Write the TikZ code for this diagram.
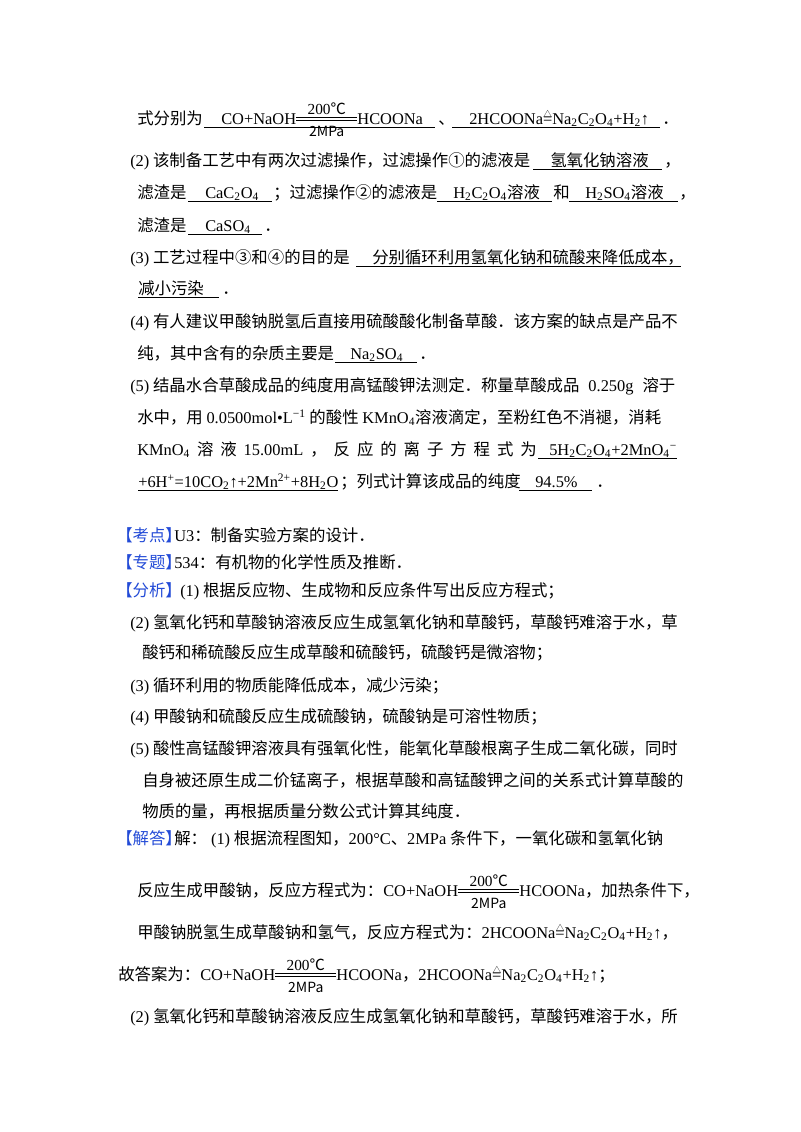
\documentclass[tikz,border=0pt]{standalone}
\usepackage{fontspec}
\setmainfont{Noto Sans CJK SC}
\newfontfamily\tm{Liberation Serif}
\newcommand{\sbs}[1]{\textsubscript{#1}}
\newcommand{\sps}[1]{\textsuperscript{#1}}
\newcommand{\cnd}[2]{$\mathop{\raisebox{0.42ex}{\vbox{\hrule width 46pt height 0.5pt\kern1.3pt\hrule width 46pt height 0.5pt}}}\limits^{\hbox{\fontsize{11.5}{11.5}\selectfont #1}}_{\hbox{\fontsize{10.5}{10.5}\selectfont #2}}$}
\newcommand{\dlt}{\ooalign{\hfil\raisebox{0.75ex}{\fontsize{6.5}{6.5}\selectfont △}\hfil\cr{\tm =}\cr}}
\newcommand{\g}{\hspace{5.2pt}}
\definecolor{blu}{RGB}{35,75,215}
\tikzset{t/.style={anchor=base west,inner sep=0pt,font=\fontsize{12.3}{14}\selectfont},
 ul/.style={line width=0.6pt}}
\begin{document}
\begin{tikzpicture}[x=0.75pt,y=-0.75pt]
\useasboundingbox (0,0) rectangle (800,1132);
\fill[white] (0,0) rectangle (800,1132);
% L1
\node[t] (a1) at (137,124) {式分别为};
\node[t] (a2) at (221,124) {{\tm CO+NaOH}\cnd{{\tm 200}℃}{2MPa}{\tm HCOONa}};
\node[t] (a3) at (438,124) {、};
\node[t] (a4) at (469,124) {{\tm 2HCOONa}\dlt{\tm Na\sbs{2}C\sbs{2}O\sbs{4}+H\sbs{2}↑}};
\node[t] (a5) at (662,124) {．};
\draw[ul] (204,127) -- (435,127); \draw[ul] (452,127) -- (660,127);
% L2
\node[t] (b1) at (130,166) {{\tm (2)} 该制备工艺中有两次过滤操作，过滤操作①的滤液是};
\node[t] (b2) at (550,166) {氢氧化钠溶液}; \node[t] (b3) at (664,166) {，};
\draw[ul] (533,169) -- (662,169);
% L3
\node[t] (c1) at (137,198) {滤渣是};
\node[t] (c2) at (205,198) {\tm CaC\sbs{2}O\sbs{4}};
\node[t] (c3) at (273,198) {；过滤操作②的滤液是};
\node[t] (c4) at (453,198) {{\tm H\sbs{2}C\sbs{2}O\sbs{4}}溶液};
\node[t] (c5) at (553,198) {和};
\node[t] (c6) at (585,198) {{\tm H\sbs{2}SO\sbs{4}}溶液};
\node[t] (c7) at (679,198) {，};
\draw[ul] (188,201) -- (272,201); \draw[ul] (437,201) -- (552,201); \draw[ul] (569,201) -- (678,201);
% L4
\node[t] (d1) at (137,231) {滤渣是};
\node[t] (d2) at (205,231) {\tm CaSO\sbs{4}};
\node[t] (d3) at (264,231) {．};
\draw[ul] (188,234) -- (262,234);
% L5
\node[t] (e1) at (130,263) {{\tm (3)} 工艺过程中③和④的目的是};
\node[t] (e2) at (372,263) {分别循环利用氢氧化钠和硫酸来降低成本，};
\draw[ul] (356,266) -- (681,266);
\node[t] (f1) at (138,294) {减小污染};
\node[t] (f2) at (222,294) {．};
\draw[ul] (138,297) -- (219,297);
% L7
\node[t] (g1) at (130,327) {{\tm (4)} 有人建议甲酸钠脱氢后直接用硫酸酸化制备草酸．该方案的缺点是产品不};
\node[t] (h1) at (137,359) {纯，其中含有的杂质主要是};
\node[t] (h2) at (350,359) {\tm Na\sbs{2}SO\sbs{4}};
\node[t] (h3) at (419,359) {．};
\draw[ul] (335,362) -- (417,362);
% L9
\node[t] (i1) at (130,391) {{\tm (5)} 结晶水合草酸成品的纯度用高锰酸钾法测定．称量草酸成品\hspace{4pt} {\tm 0.250g} \hspace{4pt}溶于};
\node[t] (j1) at (137,423) {水中，用 {\tm 0.0500mol•L\sps{−1}} 的酸性 {\tm KMnO\sbs{4}}溶液滴定，至粉红色不消褪，消耗};
\node[t] (k1) at (137,455) {{\tm KMnO\sbs{4}}\g 溶\g 液\g {\tm 15.00mL}\g ，\g 反\g 应\g 的\g 离\g 子\g 方\g 程\g 式\g 为};
\node[t] (k2) at (549,455) {\tm 5H\sbs{2}C\sbs{2}O\sbs{4}+2MnO\sbs{4}\sps{−}};
\draw[ul] (538,458) -- (677,458);
\node[t] (l1) at (138,487) {\tm +6H\sps{+}=10CO\sbs{2}↑+2Mn\sps{2+}+8H\sbs{2}O};
\node[t] (l2) at (340,487) {；列式计算该成品的纯度};
\node[t] (l3) at (535,487) {\tm 94.5\%};
\node[t] (l4) at (596,487) {．};
\draw[ul] (138,490) -- (338,490); \draw[ul] (519,490) -- (592,490);
% analysis
\node[t,text=blu] (m1) at (116,541) {【考点】};
\node[t] (m2) at (174,541) {{\tm U3}：制备实验方案的设计．};
\node[t,text=blu] (n1) at (116,568) {【专题】};
\node[t] (n2) at (174,568) {{\tm 534}：有机物的化学性质及推断．};
\node[t,text=blu] (o1) at (116,596) {【分析】};
\node[t] (o2) at (180,596) {{\tm (1)} 根据反应物、生成物和反应条件写出反应方程式；};
\node[t] (p1) at (130,628) {{\tm (2)} 氢氧化钙和草酸钠溶液反应生成氢氧化钠和草酸钙，草酸钙难溶于水，草};
\node[t] (p2) at (142,658) {酸钙和稀硫酸反应生成草酸和硫酸钙，硫酸钙是微溶物；};
\node[t] (q1) at (130,691) {{\tm (3)} 循环利用的物质能降低成本，减少污染；};
\node[t] (r1) at (130,722) {{\tm (4)} 甲酸钠和硫酸反应生成硫酸钠，硫酸钠是可溶性物质；};
\node[t] (s1) at (130,754) {{\tm (5)} 酸性高锰酸钾溶液具有强氧化性，能氧化草酸根离子生成二氧化碳，同时};
\node[t] (s2) at (142,786) {自身被还原生成二价锰离子，根据草酸和高锰酸钾之间的关系式计算草酸的};
\node[t] (s3) at (142,817) {物质的量，再根据质量分数公式计算其纯度．};
\node[t,text=blu] (u1) at (116,844) {【解答】};
\node[t] (u2) at (174,844) {解：\hspace{3pt}{\tm (1)} 根据流程图知，{\tm 200°C}、{\tm 2MPa} 条件下，一氧化碳和氢氧化钠};
\node[t] (v1) at (137,896) {反应生成甲酸钠，反应方程式为：{\tm CO+NaOH}\cnd{{\tm 200}℃}{2MPa}{\tm HCOONa}，加热条件下，};
\node[t] (w1) at (137,938) {甲酸钠脱氢生成草酸钠和氢气，反应方程式为：{\tm 2HCOONa}\dlt{\tm Na\sbs{2}C\sbs{2}O\sbs{4}+H\sbs{2}↑}，};
\node[t] (x1) at (118,980) {故答案为：{\tm CO+NaOH}\cnd{{\tm 200}℃}{2MPa}{\tm HCOONa}，{\tm 2HCOONa}\dlt{\tm Na\sbs{2}C\sbs{2}O\sbs{4}+H\sbs{2}↑}；};
\node[t] (y1) at (130,1022) {{\tm (2)} 氢氧化钙和草酸钠溶液反应生成氢氧化钠和草酸钙，草酸钙难溶于水，所};
\end{tikzpicture}
\end{document}
